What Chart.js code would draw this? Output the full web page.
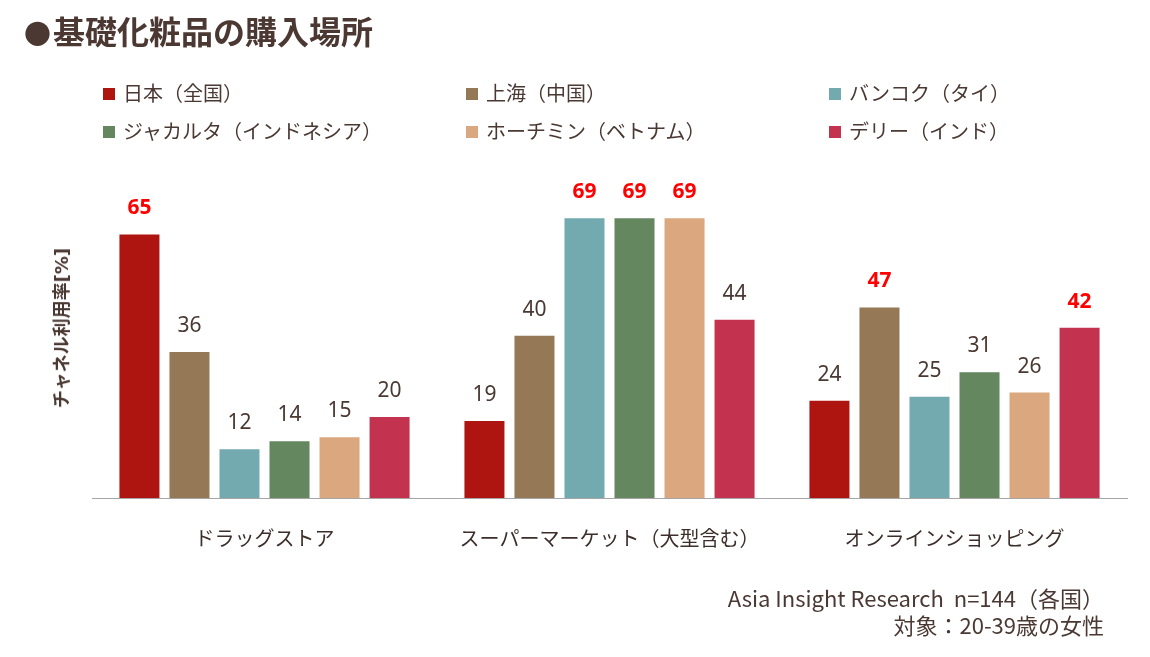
<!DOCTYPE html>
<html lang="ja">
<head>
<meta charset="UTF-8">
<title>基礎化粧品の購入場所</title>
<script src="https://cdn.jsdelivr.net/npm/chart.js"></script>
<style>
    body {
        margin: 0;
        background: #fff;
        font-family: "Noto Sans CJK JP", "Noto Sans", sans-serif;
        color: #4a3832;
    }
    #wrap {
        position: relative;
        width: 1150px;
        height: 657px;
        overflow: hidden;
    }
    #chart {
        position: absolute;
        left: 0;
        top: 0;
    }
    #title {
        position: absolute;
        left: 24px;
        top: 7px;
        font-size: 32px;
        font-weight: bold;
        color: #4b3832;
        white-space: nowrap;
    }
    #title b {
        font-size: 27px;
        margin-right: 2px;
    }
    .leg {
        position: absolute;
        font-size: 20px;
        line-height: 24px;
        white-space: nowrap;
    }
    .leg span {
        display: inline-block;
        width: 12px;
        height: 12px;
        margin-right: 8px;
        vertical-align: 1px;
    }
    #ylab {
        position: absolute;
        left: 60px;
        top: 328px;
        transform: translate(-50%, -50%) rotate(-90deg);
        font-family: "DejaVu Sans", "Noto Sans CJK JP", sans-serif;
        font-size: 18px;
        font-weight: bold;
        white-space: nowrap;
    }
    #note {
        position: absolute;
        right: 46px;
        top: 584px;
        text-align: right;
        font-size: 22px;
        line-height: 27px;
        white-space: nowrap;
    }
</style>
</head>
<body>
<div id="wrap">
    <canvas id="chart" width="1150" height="657"></canvas>
    <div id="title"><b>●</b>基礎化粧品の購入場所</div>
    <div id="legend"></div>
    <div id="ylab">チャネル利用率[%]</div>
    <div id="note">Asia Insight Research&nbsp;&nbsp;n=144（各国）<br>対象：20-39歳の女性</div>
</div>
<script>
    const categories = ['ドラッグストア', 'スーパーマーケット（大型含む）', 'オンラインショッピング'];
    const seriesNames = ['日本（全国）', '上海（中国）', 'バンコク（タイ）', 'ジャカルタ（インドネシア）', 'ホーチミン（ベトナム）', 'デリー（インド）'];
    const seriesColors = ['#ae1510', '#957856', '#72aab0', '#648760', '#daa77e', '#c33350'];

    const japan   = [65, 19, 24];
    const shanghai = [36, 40, 47];
    const bangkok = [12, 69, 25];
    const jakarta = [14, 69, 31];
    const hcmc    = [15, 69, 26];
    const delhi   = [20, 44, 42];
    const values = [japan, shanghai, bangkok, jakarta, hcmc, delhi];

    // 赤字で強調されている値
    const highlight = [
        [true, false, false],
        [false, false, true],
        [false, true, false],
        [false, true, false],
        [false, true, false],
        [false, false, true]
    ];

    // 凡例 (3列 x 2行)
    const legendX = [103, 466, 829];
    const legendY = [81, 119];
    const legendBox = document.getElementById('legend');
    seriesNames.forEach((name, i) => {
        const d = document.createElement('div');
        d.className = 'leg';
        d.style.left = legendX[i % 3] + 'px';
        d.style.top = legendY[Math.floor(i / 3)] + 'px';
        d.innerHTML = '<span style="background:' + seriesColors[i] + '"></span>' + name;
        legendBox.appendChild(d);
    });

    const valueLabels = {
        id: 'valueLabels',
        afterDatasetsDraw(chart) {
            const ctx = chart.ctx;
            ctx.save();
            ctx.textAlign = 'center';
            ctx.textBaseline = 'middle';
            chart.data.datasets.forEach((ds, i) => {
                const meta = chart.getDatasetMeta(i);
                meta.data.forEach((bar, j) => {
                    const hot = highlight[i][j];
                    ctx.fillStyle = hot ? '#ff0000' : '#4a3832';
                    ctx.font = (hot ? 'bold ' : '') + '21px "Noto Sans", sans-serif';
                    ctx.fillText(ds.data[j], bar.x, bar.y - 26);
                });
            });
            ctx.restore();
        }
    };

    new Chart(document.getElementById('chart').getContext('2d'), {
        type: 'bar',
        data: {
            labels: categories,
            datasets: values.map((v, i) => ({
                label: seriesNames[i],
                data: v,
                backgroundColor: seriesColors[i],
                categoryPercentage: 0.87,
                barPercentage: 0.8
            }))
        },
        options: {
            responsive: false,
            animation: false,
            layout: { padding: { left: 92, right: 23, top: 196, bottom: 0 } },
            plugins: {
                legend: { display: false },
                tooltip: { enabled: false }
            },
            scales: {
                x: {
                    grid: { display: false, drawTicks: false },
                    border: { display: true, color: '#a6a6a6', width: 1 },
                    ticks: {
                        padding: 28,
                        color: '#3c2e2a',
                        font: { size: 20, family: '"Noto Sans CJK JP", sans-serif' }
                    },
                    afterFit(scale) { scale.height = 159; }
                },
                y: {
                    display: false,
                    min: 0,
                    max: 74.5
                }
            }
        },
        plugins: [valueLabels]
    });
</script>
</body>
</html>
